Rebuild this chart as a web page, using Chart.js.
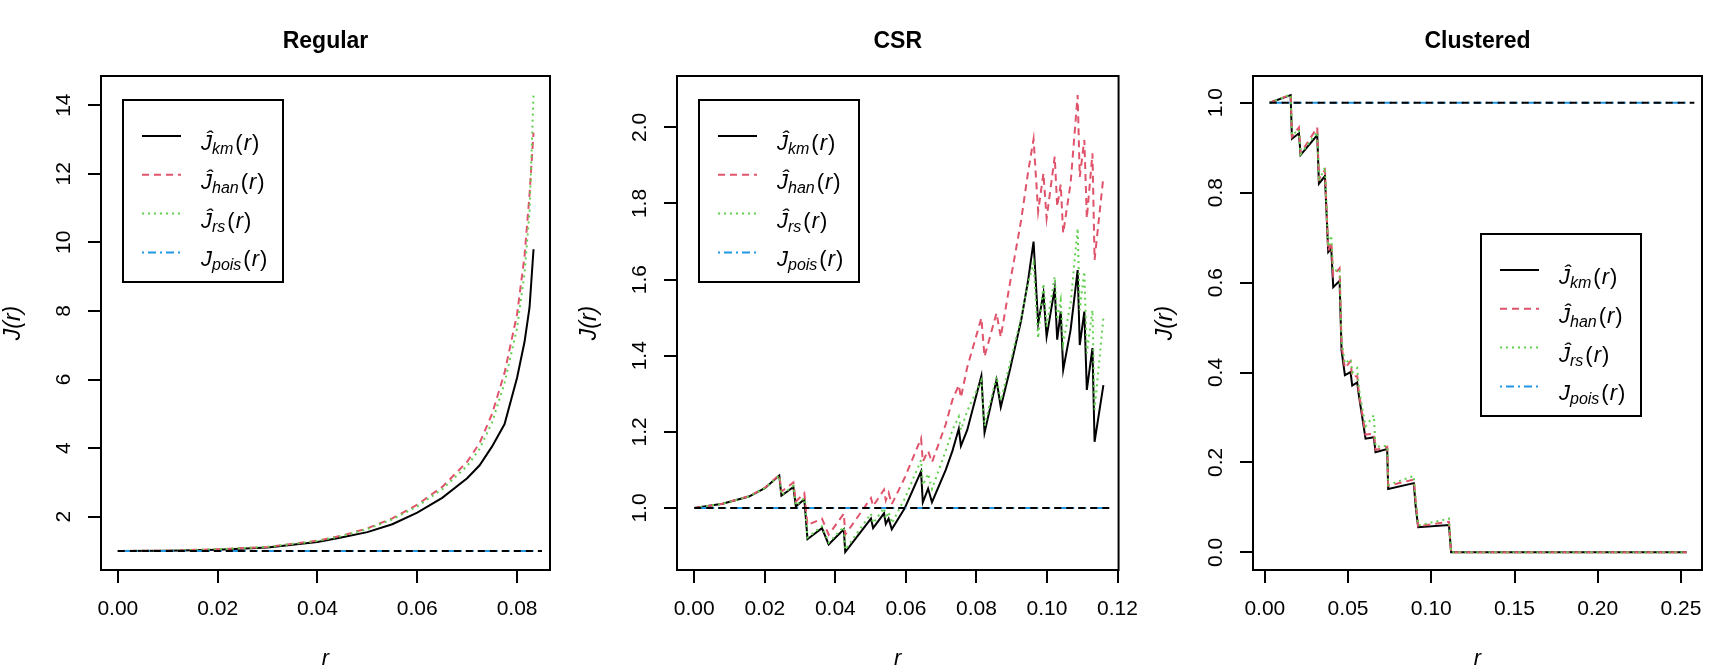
<!DOCTYPE html>
<html>
<head>
<meta charset="utf-8">
<script src="https://cdn.jsdelivr.net/npm/chart.js@4.4.0/dist/chart.umd.min.js"></script>
<style>
  html, body { margin: 0; padding: 0; background: #fff; }
  #wrap { display: flex; width: 1728px; height: 672px; }
  .panel { position: relative; width: 576px; height: 672px; }
</style>
</head>
<body>
<div id="wrap">
  <div class="panel"><canvas id="regular"></canvas></div>
  <div class="panel"><canvas id="csr"></canvas></div>
  <div class="panel"><canvas id="clustered"></canvas></div>
</div>
<script>
// Regular pattern
const regR   = [0, 0.01, 0.02, 0.03, 0.04, 0.045, 0.05, 0.055, 0.06, 0.065, 0.07, 0.0725, 0.075, 0.0775, 0.08, 0.0815, 0.0825, 0.0833];
const regKm  = [1.00, 1.01, 1.04, 1.10, 1.26, 1.40, 1.55, 1.78, 2.12, 2.55, 3.12, 3.50, 4.05, 4.70, 6.05, 7.10, 8.10, 9.80];
const regHan = [1.00, 1.01, 1.05, 1.12, 1.30, 1.45, 1.66, 1.95, 2.35, 2.87, 3.60, 4.15, 5.00, 6.20, 7.90, 9.60, 11.4, 13.2];
const regRs  = [1.00, 1.01, 1.05, 1.12, 1.29, 1.44, 1.64, 1.92, 2.30, 2.80, 3.48, 3.98, 4.75, 5.90, 7.50, 9.10, 10.9, 14.3];
const regPoisR = [0, 0.0833];
const regPois  = [1, 1];
const regRefR  = [0, 0.085];
const regRef   = [1, 1];

// CSR pattern
const csrR   = [0.0000, 0.0080, 0.0155, 0.0200, 0.0241, 0.0247, 0.0281, 0.0288, 0.0312, 0.0321,
                0.0362, 0.0381, 0.0424, 0.0428, 0.0501, 0.0507, 0.0538, 0.0543, 0.0551, 0.0560,
                0.0597, 0.0643, 0.0648, 0.0663, 0.0674, 0.0713, 0.0732, 0.0750, 0.0756, 0.0774,
                0.0814, 0.0823, 0.0857, 0.0869, 0.0895, 0.0927, 0.0946, 0.0962, 0.0975, 0.0990,
                0.0999, 0.1022, 0.1029, 0.1039, 0.1046, 0.1067, 0.1087, 0.1093, 0.1106, 0.1113,
                0.1129, 0.1135, 0.1160];
const csrKm  = [1.000, 1.011, 1.030, 1.052, 1.085, 1.032, 1.055, 1.004, 1.023, 0.918,
                0.947, 0.904, 0.944, 0.884, 0.972, 0.947, 0.986, 0.958, 0.972, 0.944,
                1.000, 1.096, 1.015, 1.051, 1.015, 1.100, 1.150, 1.208, 1.163, 1.205,
                1.347, 1.198, 1.336, 1.265, 1.363, 1.494, 1.595, 1.700, 1.485, 1.564,
                1.450, 1.577, 1.442, 1.516, 1.363, 1.468, 1.625, 1.428, 1.516, 1.310,
                1.420, 1.174, 1.323];
const csrHan = [1.000, 1.011, 1.031, 1.053, 1.087, 1.043, 1.067, 1.017, 1.039, 0.955,
                0.972, 0.930, 0.985, 0.930, 1.026, 1.005, 1.048, 1.020, 1.040, 1.010,
                1.080, 1.183, 1.122, 1.150, 1.120, 1.220, 1.284, 1.323, 1.290, 1.370,
                1.499, 1.398, 1.512, 1.449, 1.590, 1.757, 1.880, 1.969, 1.779, 1.879,
                1.761, 1.923, 1.792, 1.850, 1.722, 1.853, 2.085, 1.870, 1.967, 1.761,
                1.932, 1.652, 1.870];
const csrRs  = [1.000, 1.011, 1.030, 1.052, 1.085, 1.034, 1.058, 1.006, 1.026, 0.922,
                0.952, 0.909, 0.950, 0.890, 0.985, 0.960, 1.000, 0.972, 0.990, 0.960,
                1.025, 1.126, 1.060, 1.090, 1.050, 1.150, 1.205, 1.240, 1.205, 1.255,
                1.335, 1.215, 1.345, 1.282, 1.380, 1.500, 1.590, 1.643, 1.446, 1.590,
                1.476, 1.608, 1.494, 1.546, 1.433, 1.538, 1.735, 1.520, 1.621, 1.407,
                1.520, 1.258, 1.499];
const csrPoisR = [0, 0.116];
const csrPois  = [1, 1];
const csrRefR  = [0, 0.118];
const csrRef   = [1, 1];

// Clustered pattern
const cluR   = [0.0029, 0.0155, 0.0163, 0.0205, 0.0215, 0.0315, 0.0325, 0.0361, 0.0381, 0.0399,
                0.0411, 0.0449, 0.0461, 0.0481, 0.0515, 0.0525, 0.0555, 0.0565, 0.0605, 0.0655,
                0.0665, 0.0735, 0.0741, 0.0895, 0.0906, 0.0921, 0.1106, 0.1119, 0.2534];
const cluKm  = [1.000, 1.017, 0.920, 0.932, 0.884, 0.928, 0.820, 0.837, 0.668, 0.676,
                0.590, 0.604, 0.449, 0.394, 0.401, 0.371, 0.378, 0.349, 0.253, 0.256,
                0.223, 0.230, 0.141, 0.154, 0.103, 0.056, 0.061, 0.000, 0.000];
const cluHan = [1.000, 1.018, 0.925, 0.945, 0.888, 0.945, 0.830, 0.850, 0.670, 0.690,
                0.615, 0.632, 0.460, 0.410, 0.425, 0.390, 0.392, 0.355, 0.262, 0.264,
                0.228, 0.235, 0.148, 0.162, 0.115, 0.058, 0.068, 0.000, 0.000];
const cluRs  = [1.000, 1.018, 0.928, 0.940, 0.886, 0.935, 0.825, 0.857, 0.680, 0.705,
                0.625, 0.630, 0.470, 0.420, 0.430, 0.400, 0.410, 0.365, 0.280, 0.305,
                0.235, 0.237, 0.150, 0.170, 0.115, 0.060, 0.075, 0.000, 0.000];
const cluPoisR = [0.0029, 0.2534];
const cluPois  = [1, 1];
const cluRefR  = [0.0029, 0.258];
const cluRef   = [1, 1];

const FONT = '"Liberation Sans", Arial, sans-serif';
const COLORS = { km: '#000000', han: '#DF536B', rs: '#61D04F', pois: '#2297E6' };
const DASH = { km: [], han: [7, 5], rs: [2, 4], pois: [2, 4, 8, 4] };
const legendItems = [
  { key: 'km',   base: '\u0134', sub: 'km' },
  { key: 'han',  base: '\u0134', sub: 'han' },
  { key: 'rs',   base: '\u0134', sub: 'rs' },
  { key: 'pois', base: 'J',      sub: 'pois' }
];

function pts(xs, ys) {
  return xs.map((x, i) => ({ x: x, y: ys[i] }));
}

// box round the plot, main title and the plotmath-like legend
const rPlot = {
  id: 'rplot',
  afterDraw(chart, args, opts) {
    const ctx = chart.ctx;
    const a = chart.chartArea;
    ctx.save();
    ctx.strokeStyle = '#000';
    ctx.lineWidth = 2;
    ctx.setLineDash([]);
    ctx.strokeRect(a.left, a.top, a.right - a.left, a.bottom - a.top);

    ctx.fillStyle = '#000';
    ctx.font = 'bold 23px ' + FONT;
    ctx.textAlign = 'center';
    ctx.textBaseline = 'alphabetic';
    ctx.fillText(opts.title, (a.left + a.right) / 2, 48);

    const L = opts.legend;
    ctx.strokeRect(L.left, L.top, 160, 182);
    legendItems.forEach((it, i) => {
      const y = L.top + 36 + i * 38.8;
      ctx.strokeStyle = COLORS[it.key];
      ctx.lineWidth = 2;
      ctx.setLineDash(DASH[it.key]);
      ctx.beginPath();
      ctx.moveTo(L.left + 19, y);
      ctx.lineTo(L.left + 58, y);
      ctx.stroke();
      ctx.setLineDash([]);

      ctx.fillStyle = '#000';
      ctx.textAlign = 'left';
      const base = y + 14;
      let x = L.left + 78;
      ctx.font = 'italic 22px ' + FONT;
      ctx.fillText(it.base, x, base);
      x += ctx.measureText(it.base).width;
      ctx.font = 'italic 16px ' + FONT;
      ctx.fillText(it.sub, x, base + 4);
      x += ctx.measureText(it.sub).width + 2;
      ctx.font = '22px ' + FONT;
      ctx.fillText('(', x, base);
      x += ctx.measureText('(').width + 1;
      ctx.font = 'italic 22px ' + FONT;
      ctx.fillText('r', x, base);
      x += ctx.measureText('r').width + 1;
      ctx.font = '22px ' + FONT;
      ctx.fillText(')', x, base);
    });
    ctx.restore();
  }
};

function makePanel(id, p) {
  const line = (data, color, dash, order) => ({
    data: data,
    borderColor: color,
    borderWidth: 2,
    borderDash: dash,
    pointRadius: 0,
    fill: false,
    tension: 0,
    order: order
  });
  const tickFont = { family: FONT, size: 21 };
  return new Chart(document.getElementById(id), {
    type: 'line',
    data: {
      datasets: [
        line(pts(p.refR, p.ref), '#000000', [7, 5], 1),
        line(pts(p.poisR, p.pois), COLORS.pois, DASH.pois, 2),
        line(pts(p.r, p.rs), COLORS.rs, DASH.rs, 3),
        line(pts(p.r, p.han), COLORS.han, DASH.han, 4),
        line(pts(p.r, p.km), COLORS.km, DASH.km, 5)
      ]
    },
    options: {
      responsive: true,
      maintainAspectRatio: false,
      animation: false,
      layout: { padding: { top: 76, right: 26, bottom: 0, left: 0 } },
      plugins: {
        legend: { display: false },
        tooltip: { enabled: false },
        rplot: { title: p.title, legend: p.legend }
      },
      scales: {
        x: {
          type: 'linear',
          min: p.xMin, max: p.xMax,
          afterFit: s => { s.height = 102; },
          ticks: {
            stepSize: p.xStep, includeBounds: false, autoSkip: false, maxRotation: 0,
            color: '#000', font: tickFont, padding: 14,
            callback: v => v.toFixed(2)
          },
          grid: { drawOnChartArea: false, drawTicks: true, tickLength: 13, color: '#000', lineWidth: 2 },
          border: { display: false },
          title: { display: true, text: 'r', color: '#000',
                   font: { family: FONT, size: 22, style: 'italic' }, padding: { top: 0, bottom: 0 } }
        },
        y: {
          type: 'linear',
          min: p.yMin, max: p.yMax,
          afterFit: s => { s.width = 101; },
          ticks: {
            stepSize: p.yStep, includeBounds: false, autoSkip: false,
            minRotation: 90, maxRotation: 90, crossAlign: 'center',
            color: '#000', font: tickFont, padding: p.yPad,
            callback: v => p.yDigits ? v.toFixed(p.yDigits) : String(Math.round(v))
          },
          grid: { drawOnChartArea: false, drawTicks: true, tickLength: 13, color: '#000', lineWidth: 2 },
          border: { display: false },
          title: { display: true, text: 'J(r)', color: '#000',
                   font: { family: FONT, size: 23, style: 'italic' }, padding: { top: 0, bottom: 0 } }
        }
      }
    },
    plugins: [rPlot]
  });
}

makePanel('regular', {
  title: 'Regular', r: regR, km: regKm, han: regHan, rs: regRs,
  poisR: regPoisR, pois: regPois, refR: regRefR, ref: regRef,
  xMin: -0.00337, xMax: 0.0866, xStep: 0.02,
  yMin: 0.446, yMax: 14.85, yStep: 2, yDigits: 0, yPad: 12,
  legend: { left: 123, top: 100 }
});

makePanel('csr', {
  title: 'CSR', r: csrR, km: csrKm, han: csrHan, rs: csrRs,
  poisR: csrPoisR, pois: csrPois, refR: csrRefR, ref: csrRef,
  xMin: -0.0049, xMax: 0.1203, xStep: 0.02,
  yMin: 0.837, yMax: 2.135, yStep: 0.2, yDigits: 1, yPad: 9,
  legend: { left: 123, top: 100 }
});

makePanel('clustered', {
  title: 'Clustered', r: cluR, km: cluKm, han: cluHan, rs: cluRs,
  poisR: cluPoisR, pois: cluPois, refR: cluRefR, ref: cluRef,
  xMin: -0.0071, xMax: 0.2626, xStep: 0.05,
  yMin: -0.0392, yMax: 1.0595, yStep: 0.2, yDigits: 1, yPad: 9,
  legend: { left: 329, top: 234 }
});
</script>
</body>
</html>
